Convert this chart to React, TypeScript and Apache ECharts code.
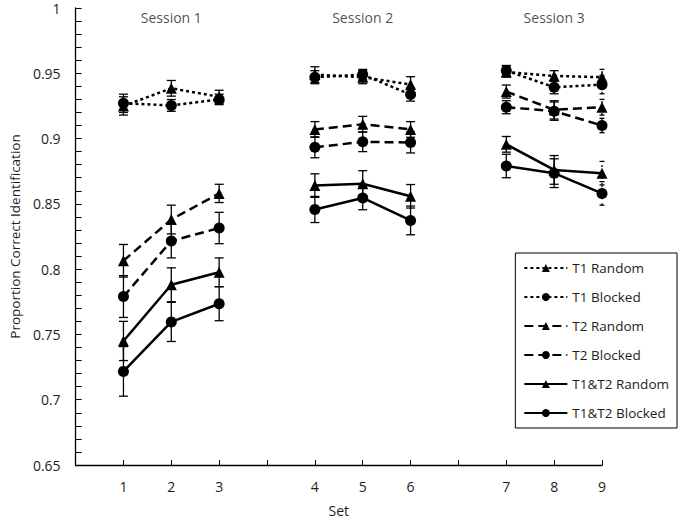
import React, { useEffect, useRef } from "react";
import * as echarts from "echarts";

// x-axis categories (blank slots separate the sessions)
const categories = ["", "1", "2", "3", "", "4", "5", "6", "", "7", "8", "9"];
const sets = ["1", "2", "3", "4", "5", "6", "7", "8", "9"];
const sessions = ["Session 1", "Session 2", "Session 3"];
const sessionCenterSets = ["2", "5", "8"];
const sessionLabelLevel = 0.9925;

const seriesNames = [
  "T1 Random",
  "T1 Blocked",
  "T2 Random",
  "T2 Blocked",
  "T1&T2 Random",
  "T1&T2 Blocked",
];

const t1Random = [0.925, 0.9385, 0.932, 0.949, 0.947, 0.9414, 0.951, 0.948, 0.947];
const t1RandomErr = [0.007, 0.006, 0.005, 0.006, 0.005, 0.006, 0.004, 0.004, 0.006];
const t1Blocked = [0.927, 0.9254, 0.93, 0.947, 0.949, 0.9337, 0.952, 0.9393, 0.9413];
const t1BlockedErr = [0.007, 0.0045, 0.004, 0.005, 0.004, 0.005, 0.004, 0.005, 0.007];
const t2Random = [0.8064, 0.838, 0.858, 0.907, 0.911, 0.907, 0.936, 0.922, 0.924];
const t2RandomErr = [0.0125, 0.011, 0.007, 0.006, 0.006, 0.006, 0.005, 0.007, 0.006];
const t2Blocked = [0.779, 0.8216, 0.8315, 0.8933, 0.8975, 0.897, 0.924, 0.921, 0.91];
const t2BlockedErr = [0.016, 0.013, 0.012, 0.008, 0.0075, 0.008, 0.005, 0.007, 0.0055];
const bothRandom = [0.745, 0.788, 0.7976, 0.864, 0.8654, 0.8558, 0.8956, 0.876, 0.8735];
const bothRandomErr = [0.015, 0.013, 0.011, 0.009, 0.01, 0.009, 0.006, 0.011, 0.009];
const bothBlocked = [0.7217, 0.7596, 0.7735, 0.8457, 0.8545, 0.8373, 0.879, 0.8735, 0.858];
const bothBlockedErr = [0.019, 0.015, 0.013, 0.01, 0.009, 0.011, 0.009, 0.011, 0.009];

const seriesValues = [t1Random, t1Blocked, t2Random, t2Blocked, bothRandom, bothBlocked];
const seriesErrors = [t1RandomErr, t1BlockedErr, t2RandomErr, t2BlockedErr, bothRandomErr, bothBlockedErr];
const seriesSymbols = ["triangle", "circle", "triangle", "circle", "triangle", "circle"];
const seriesDash: any[] = [[3, 3], [3, 3], [9, 5], [9, 5], "solid", "solid"];

const FONT = "'Open Sans', 'DejaVu Sans', sans-serif";
const TEXT = "#1e1e1e";

function fullLine(values: number[]) {
  return categories.map((c) => {
    if (c === "") return "-";
    return values[sets.indexOf(c)];
  });
}

function errorData(values: number[], errs: number[]) {
  return sets.map((s, i) => [categories.indexOf(s), values[i] - errs[i], values[i] + errs[i]]);
}

export default function App() {
  const ref = useRef<HTMLDivElement>(null);

  useEffect(() => {
    if (!ref.current) return;
    const chart = echarts.init(ref.current, undefined, { renderer: "svg" });
    const lastIdx = sets.length - 1;

    const lineSeries = seriesNames.map((name, k) => ({
      type: "line",
      name,
      data: fullLine(seriesValues[k]),
      symbol: seriesSymbols[k],
      symbolSize: 11,
      showSymbol: true,
      connectNulls: false,
      itemStyle: { color: "#000" },
      lineStyle: { color: "#000", width: 2.5, type: seriesDash[k] },
      z: 3,
    }));

    const errSeries = seriesNames.map((name, k) => ({
      type: "custom",
      name: name + " error",
      data: errorData(seriesValues[k], seriesErrors[k]),
      encode: { x: 0, y: [1, 2] },
      z: 2,
      renderItem: (params: any, api: any) => {
        const x = api.value(0);
        const lo = api.coord([x, api.value(1)]);
        const hi = api.coord([x, api.value(2)]);
        const last = params.dataIndex === lastIdx;
        const half = last ? 2.5 : 4.5;
        const style = { stroke: "#000", lineWidth: 1.3 };
        return {
          type: "group",
          children: [
            {
              type: "line",
              shape: { x1: lo[0], y1: lo[1], x2: hi[0], y2: hi[1] },
              style: last ? { ...style, lineDash: [2, 4] } : style,
            },
            { type: "line", shape: { x1: lo[0] - half, y1: lo[1], x2: lo[0] + half, y2: lo[1] }, style },
            { type: "line", shape: { x1: hi[0] - half, y1: hi[1], x2: hi[0] + half, y2: hi[1] }, style },
          ],
        };
      },
    }));

    const sessionSeries = {
      type: "scatter",
      name: "sessions",
      symbolSize: 0,
      silent: true,
      data: sessions.map((s, i) => ({
        name: s,
        value: [categories.indexOf(sessionCenterSets[i]), sessionLabelLevel],
      })),
      label: {
        show: true,
        position: "inside",
        formatter: (p: any) => p.name,
        fontFamily: FONT,
        fontSize: 14,
        color: TEXT,
      },
    };

    chart.setOption({
      animation: false,
      textStyle: { fontFamily: FONT },
      grid: { left: 66, right: 78, top: 8, bottom: 54, containLabel: false },
      legend: {
        data: seriesNames,
        orient: "vertical",
        right: 3,
        top: 253,
        itemWidth: 43,
        itemHeight: 10,
        itemGap: 15,
        backgroundColor: "#fff",
        borderColor: "#000",
        borderWidth: 1,
        borderRadius: 0,
        padding: [8, 8, 8, 8],
        textStyle: { fontFamily: FONT, fontSize: 13.5, color: TEXT },
      },
      xAxis: {
        type: "category",
        data: categories,
        boundaryGap: false,
        axisLine: { show: true, lineStyle: { color: "#000", width: 1.3 } },
        axisTick: { show: true, inside: true, length: 5, interval: 0, lineStyle: { color: "#000" } },
        axisLabel: { interval: 0, margin: 14, fontSize: 14, color: TEXT, fontFamily: FONT },
        splitLine: { show: false },
        name: "Set",
        nameLocation: "middle",
        nameGap: 38,
        nameTextStyle: { fontSize: 14, color: TEXT, fontFamily: FONT },
      },
      yAxis: {
        type: "value",
        min: 0.65,
        max: 1,
        interval: 0.05,
        axisLine: { show: true, lineStyle: { color: "#000", width: 1.3 } },
        axisTick: { show: true, inside: true, length: 6, lineStyle: { color: "#000" } },
        minorTick: { show: true, splitNumber: 5, length: 6, lineStyle: { color: "#000", width: 1 } },
        splitLine: { show: false },
        minorSplitLine: { show: false },
        axisLabel: {
          margin: 15,
          fontSize: 14,
          color: TEXT,
          fontFamily: FONT,
          padding: [4, 0, 0, 0],
          formatter: (v: number) => String(parseFloat(v.toFixed(2))),
        },
        name: "Proportion Correct Identification",
        nameLocation: "middle",
        nameGap: 50,
        nameTextStyle: { fontSize: 13.5, color: TEXT, fontFamily: FONT },
      },
      series: [...errSeries, ...lineSeries, sessionSeries],
    });

    return () => chart.dispose();
  }, []);

  return (
    <div
      ref={ref}
      style={{ position: "absolute", left: 0, top: 0, width: 680, height: 522, background: "#fff" }}
    />
  );
}
